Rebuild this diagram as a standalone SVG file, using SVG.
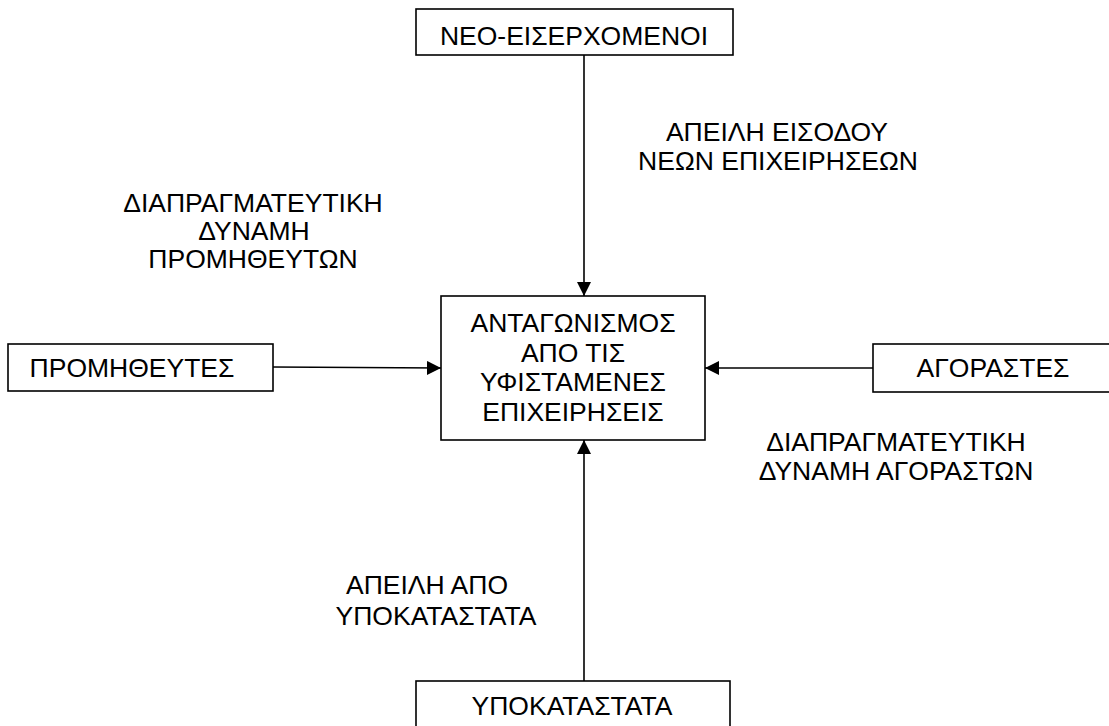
<svg xmlns="http://www.w3.org/2000/svg" width="1109" height="726" viewBox="0 0 1109 726">
<style>
.box{fill:#fff;stroke:#000;stroke-width:1.6}
.t{font-family:"Liberation Sans",Arial,sans-serif;font-size:26.5px;fill:#000;text-anchor:middle}
.c{stroke:#000;stroke-width:1.6;fill:none}
</style>
<defs>
<marker id="arr" viewBox="0 0 14 14" refX="14" refY="7" markerWidth="14" markerHeight="14" markerUnits="userSpaceOnUse" orient="auto">
<path d="M0,0 L14,7 L0,14 Z" fill="#000"/>
</marker>
</defs>
<g id="connectors">
<line class="c" x1="584" y1="55" x2="584" y2="296" marker-end="url(#arr)"/>
<line class="c" x1="273" y1="367" x2="441" y2="368" marker-end="url(#arr)"/>
<line class="c" x1="873" y1="368" x2="705" y2="368" marker-end="url(#arr)"/>
<line class="c" x1="584" y1="681" x2="584" y2="440" marker-end="url(#arr)"/>
</g>
<g id="node-neo">
<rect class="box" x="416" y="9" width="317" height="46"/>
<text class="t" x="574" y="45">ΝΕΟ-ΕΙΣΕΡΧΟΜΕΝΟΙ</text>
</g>
<g id="node-center">
<rect class="box" x="441" y="296" width="264" height="144"/>
<text class="t" x="573" y="332">ΑΝΤΑΓΩΝΙΣΜΟΣ</text>
<text class="t" x="573" y="362">ΑΠΟ ΤΙΣ</text>
<text class="t" x="573" y="391">ΥΦΙΣΤΑΜΕΝΕΣ</text>
<text class="t" x="573" y="421">ΕΠΙΧΕΙΡΗΣΕΙΣ</text>
</g>
<g id="node-promitheutes">
<rect class="box" x="8" y="344" width="265" height="47"/>
<text class="t" x="132" y="377">ΠΡΟΜΗΘΕΥΤΕΣ</text>
</g>
<g id="node-agorastes">
<rect class="box" x="873" y="344" width="250" height="48"/>
<text class="t" x="993" y="377">ΑΓΟΡΑΣΤΕΣ</text>
</g>
<g id="node-ypokatastata">
<rect class="box" x="416" y="681" width="314" height="60"/>
<text class="t" x="572" y="715">ΥΠΟΚΑΤΑΣΤΑΤΑ</text>
</g>
<g id="labels">
<text class="t" x="777" y="141">ΑΠΕΙΛΗ ΕΙΣΟΔΟΥ</text>
<text class="t" x="778" y="170">ΝΕΩΝ ΕΠΙΧΕΙΡΗΣΕΩΝ</text>
<text class="t" x="253" y="212">ΔΙΑΠΡΑΓΜΑΤΕΥΤΙΚΗ</text>
<text class="t" x="254" y="240">ΔΥΝΑΜΗ</text>
<text class="t" x="253" y="268">ΠΡΟΜΗΘΕΥΤΩΝ</text>
<text class="t" x="896" y="451">ΔΙΑΠΡΑΓΜΑΤΕΥΤΙΚΗ</text>
<text class="t" x="896" y="480">ΔΥΝΑΜΗ ΑΓΟΡΑΣΤΩΝ</text>
<text class="t" x="427" y="594">ΑΠΕΙΛΗ ΑΠΟ</text>
<text class="t" x="436" y="625">ΥΠΟΚΑΤΑΣΤΑΤΑ</text>
</g>
</svg>
